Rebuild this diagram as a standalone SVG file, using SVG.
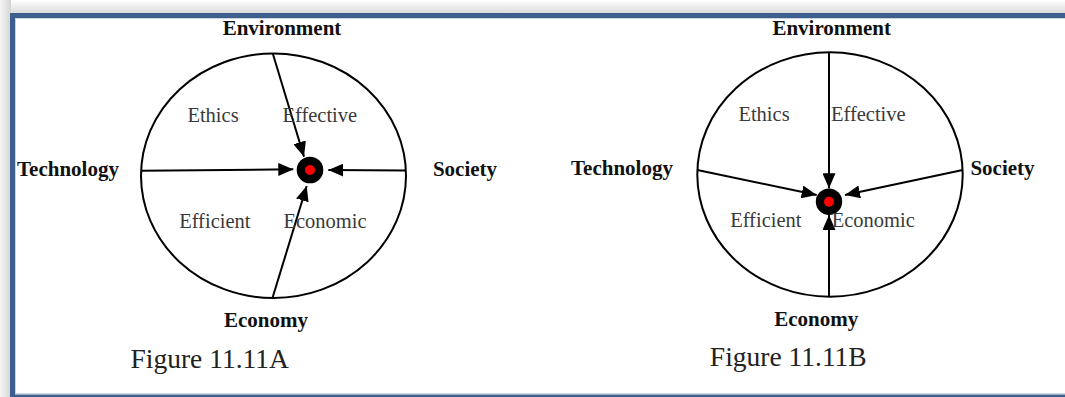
<svg xmlns="http://www.w3.org/2000/svg" width="1065" height="397" viewBox="0 0 1065 397">
  <defs>
    <linearGradient id="shTop" x1="0" y1="0" x2="0" y2="1">
      <stop offset="0" stop-color="#ffffff"/>
      <stop offset="1" stop-color="#d8d8d8"/>
    </linearGradient>
    <linearGradient id="shLeft" x1="0" y1="0" x2="1" y2="0">
      <stop offset="0" stop-color="#f6f6f6"/>
      <stop offset="1" stop-color="#d4d4d4"/>
    </linearGradient>
    <marker id="arr" viewBox="0 0 15 13" refX="15" refY="6.5" markerWidth="15" markerHeight="13" markerUnits="userSpaceOnUse" orient="auto">
      <path d="M0,0 L15,6.5 L0,13 z" fill="#000"/>
    </marker>
    <style>
      .ring { fill: none; stroke: #000; stroke-width: 2; }
      .spoke { fill: none; stroke: #000; stroke-width: 2; marker-end: url(#arr); }
      .hub { fill: #000; }
      .core { fill: #ff0000; }
      .bold { font-family: "Liberation Serif", serif; font-weight: bold; font-size: 21px; fill: #111; text-anchor: middle; }
      .reg { font-family: "Liberation Serif", serif; font-size: 20.5px; fill: #3a3a3a; text-anchor: middle; }
      .cap { font-family: "Liberation Serif", serif; font-size: 27.5px; fill: #222; text-anchor: middle; }
    </style>
  </defs>

  <rect x="0" y="0" width="1065" height="397" fill="#ffffff"/>
  <rect x="0" y="0" width="1065" height="14" fill="url(#shTop)"/>
  <rect x="0" y="0" width="11" height="397" fill="url(#shLeft)"/>
  <rect x="12.5" y="15.5" width="1060" height="381.5" fill="#ffffff" stroke="#3c5f8e" stroke-width="5"/>
  <rect x="15.5" y="18.5" width="1060" height="375" fill="none" stroke="#c9d4e2" stroke-width="1"/>

  <!-- Figure A -->
  <g id="figA-circle"><ellipse class="ring" cx="273.5" cy="175.7" rx="132.5" ry="122.3"/></g>
  <g id="figA-hub"><circle class="hub" cx="310" cy="170" r="13.3"/><circle class="core" cx="310" cy="170" r="5"/></g>
  <g id="figA-connectors">
    <line class="spoke" x1="272.7" y1="53.3" x2="304" y2="156.7"/>
    <line class="spoke" x1="141" y1="170.7" x2="293.3" y2="169.3"/>
    <line class="spoke" x1="406" y1="170.5" x2="328.3" y2="170"/>
    <line class="spoke" x1="272.7" y1="297.3" x2="306.7" y2="186"/>
  </g>
  <g id="figA-environment"><text class="bold" x="282" y="35">Environment</text></g>
  <g id="figA-technology"><text class="bold" x="68" y="175.6">Technology</text></g>
  <g id="figA-society"><text class="bold" x="465" y="176">Society</text></g>
  <g id="figA-economy"><text class="bold" x="266" y="327">Economy</text></g>
  <g id="figA-ethics"><text class="reg" x="213" y="122.3">Ethics</text></g>
  <g id="figA-effective"><text class="reg" x="319.8" y="122.3">Effective</text></g>
  <g id="figA-efficient"><text class="reg" x="214.8" y="228.3">Efficient</text></g>
  <g id="figA-economic"><text class="reg" x="325" y="228.3">Economic</text></g>
  <g id="figA-caption"><text class="cap" x="209.7" y="368.3">Figure 11.11A</text></g>

  <!-- Figure B -->
  <g id="figB-circle"><ellipse class="ring" cx="830" cy="174.5" rx="132.7" ry="122.2"/></g>
  <g id="figB-hub"><circle class="hub" cx="829" cy="201.7" r="13.2"/><circle class="core" cx="829" cy="201.7" r="5"/></g>
  <g id="figB-connectors">
    <line class="spoke" x1="829" y1="52.3" x2="829" y2="188.3"/>
    <line class="spoke" x1="697.3" y1="170" x2="816.7" y2="195"/>
    <line class="spoke" x1="962.7" y1="170" x2="845" y2="195"/>
    <line class="spoke" x1="829" y1="296.7" x2="829" y2="215"/>
  </g>
  <g id="figB-environment"><text class="bold" x="831.7" y="35">Environment</text></g>
  <g id="figB-technology"><text class="bold" x="622" y="175">Technology</text></g>
  <g id="figB-society"><text class="bold" x="1002.5" y="175">Society</text></g>
  <g id="figB-economy"><text class="bold" x="816.3" y="326">Economy</text></g>
  <g id="figB-ethics"><text class="reg" x="764" y="120.7">Ethics</text></g>
  <g id="figB-effective"><text class="reg" x="868.3" y="120.7">Effective</text></g>
  <g id="figB-efficient"><text class="reg" x="765.8" y="226.7">Efficient</text></g>
  <g id="figB-economic"><text class="reg" x="873.3" y="226.7">Economic</text></g>
  <g id="figB-caption"><text class="cap" x="788.3" y="365.7">Figure 11.11B</text></g>
</svg>
